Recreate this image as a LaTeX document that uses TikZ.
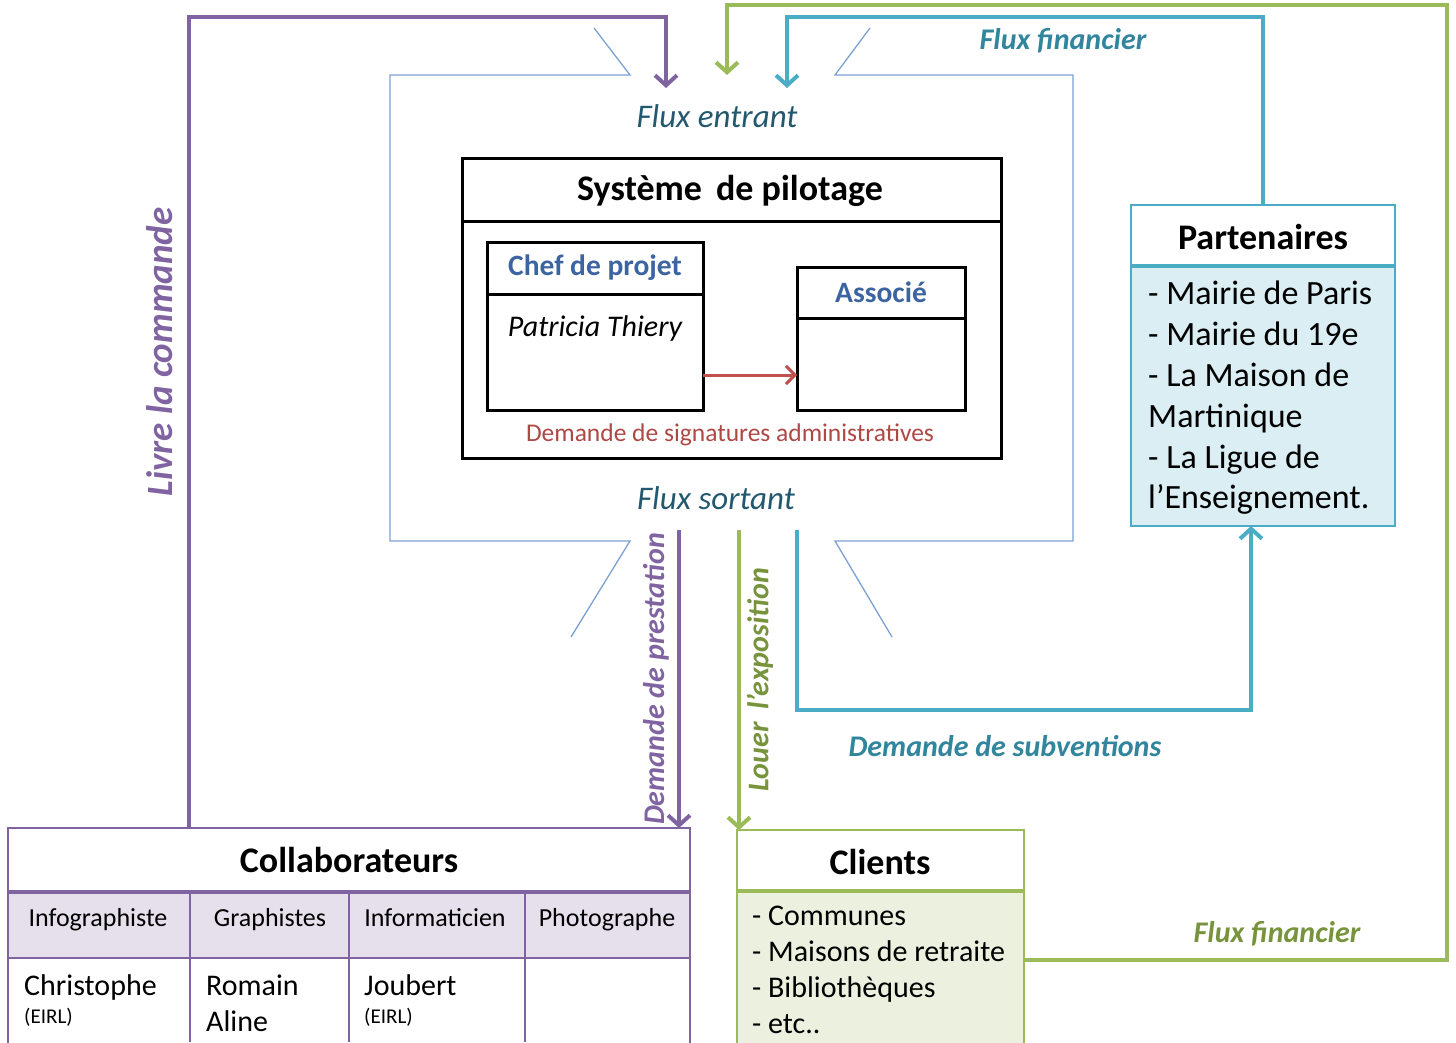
\documentclass[tikz,border=0pt]{standalone}
\usepackage{fontspec}
\setmainfont{Carlito}
\usetikzlibrary{arrows.meta,positioning}

\definecolor{cadre}{RGB}{125,160,210}
\definecolor{fluxtxt}{RGB}{35,88,110}
\definecolor{violet}{RGB}{128,100,162}
\definecolor{violetfond}{RGB}{229,224,236}
\definecolor{vert}{RGB}{155,187,89}
\definecolor{verttxt}{RGB}{119,147,60}
\definecolor{vertfond}{RGB}{235,241,222}
\definecolor{bleu}{RGB}{75,172,198}
\definecolor{bleutxt}{RGB}{49,133,156}
\definecolor{bleufond}{RGB}{218,238,243}
\definecolor{titrebleu}{RGB}{60,100,160}
\definecolor{rouge}{RGB}{192,80,77}

\tikzset{
	boite/.style={draw, inner sep=0pt, outer sep=0pt, anchor=north west},
	flux/.style={line width=4pt, -{Straight Barb[length=10pt,width=22pt]}},
	cadresys/.style={draw=cadre, line width=1.3pt},
	texteflux/.style={font=\fontsize{33}{40}\selectfont\itshape, text=fluxtxt},
	titre/.style={font=\fontsize{36}{42}\selectfont\bfseries},
	etiquette/.style={font=\fontsize{30}{36}\selectfont\bfseries\itshape},
	liste/.style={anchor=north west, inner sep=0pt, align=left},
	colonne/.style={anchor=base, inner sep=0pt, font=\fontsize{26}{31}\selectfont}
}

\begin{document}
\begin{tikzpicture}[x=1pt, y=-1pt]
	\useasboundingbox (0,0) rectangle (1456,1042);
	\clip (0,0) rectangle (1456,1042);
	
	% cadre du systeme
	\draw[cadresys] (594,28) -- (630,75) -- (390,75) -- (390,541) -- (630,541) -- (571,637);
	\draw[cadresys] (870,28) -- (835,75) -- (1073,75) -- (1073,541) -- (835,541) -- (892,637);
	
	\node[texteflux] (entrant) at (717,116) {Flux entrant};
	\node[texteflux] (sortant) at (716,498) {Flux sortant};
	
	% systeme de pilotage
	\node[boite, line width=3pt, minimum width=539pt, minimum height=300pt] (pilot) at (462,158) {};
	\draw[line width=3pt] ([yshift=-63pt]pilot.north west) -- ([yshift=-63pt]pilot.north east);
	\node[titre] (pilottitre) at (730,191) {Système\hspace{6pt} de pilotage};
	
	\node[boite, line width=3pt, minimum width=216pt, minimum height=168pt] (chef) at (487,242) {};
	\draw[line width=3pt] ([yshift=-52pt]chef.north west) -- ([yshift=-52pt]chef.north east);
	\node[font=\fontsize{29.5}{35}\selectfont\bfseries, text=titrebleu] (cheftitre) at (595,268) {Chef de projet};
	\node[font=\fontsize{30}{36}\selectfont\itshape] (patricia) at (595,328) {Patricia Thiery};
	
	\node[boite, line width=3pt, minimum width=168pt, minimum height=143pt] (assoc) at (797,267) {};
	\draw[line width=3pt] ([yshift=-51pt]assoc.north west) -- ([yshift=-51pt]assoc.north east);
	\node[font=\fontsize{29.5}{35}\selectfont\bfseries, text=titrebleu] (assoctitre) at (881,292) {Associé};
	
	\draw[line width=3pt, rouge, -{Straight Barb[length=9pt,width=18pt]}] ([yshift=-133pt]chef.north east) -- ([yshift=-133pt]chef.north east -| assoc.west);
	\node[font=\fontsize{25.5}{30}\selectfont, text=rouge!90!black] (signatures) at (730,435) {Demande de signatures administratives};
	
	% partenaires
	\node[boite, draw=bleu, line width=1.5pt, fill=white, minimum width=264pt, minimum height=61pt] (parttete) at (1131,205) {};
	\node[boite, draw=bleu, line width=1.5pt, fill=bleufond, minimum width=264pt, minimum height=260pt, below=0pt of parttete] (part) {};
	\draw[bleu, line width=3.5pt] (part.north west) -- (part.north east);
	\node[titre] (parttitre) at (1263,237) {Partenaires};
	\node[liste, font=\fontsize{34}{40.8}\selectfont] (partliste) at (1148,281) {- Mairie de Paris\\- Mairie du 19e\\- La Maison de\\Martinique\\- La Ligue de\\l’Enseignement.};
	
	% collaborateurs
	\node[boite, draw=violet, line width=1.5pt, minimum width=682pt, minimum height=240pt] (collab) at (8,828) {};
	\fill[violetfond] ([yshift=-64pt]collab.north west) rectangle ([yshift=-130pt]collab.north east);
	\draw[violet, line width=3.5pt] ([yshift=-64pt]collab.north west) -- ([yshift=-64pt]collab.north east);
	\draw[violet, line width=1.5pt] ([yshift=-130pt]collab.north west) -- ([yshift=-130pt]collab.north east);
	\foreach \cx in {190,349,525}
		\draw[violet, line width=1.5pt] (\cx,892) -- (\cx,1042);
	\draw[violet, line width=1.5pt] (collab.north west) rectangle (collab.south east);
	\node[titre] (collabtitre) at (349,860) {Collaborateurs};
	
	\node[colonne] (infographiste) at (98,926) {Infographiste};
	\node[colonne] (graphistes) at (270,926) {Graphistes};
	\node[colonne] (informaticien) at (435,926) {Informaticien};
	\node[colonne] (photographe) at (607,926) {Photographe};
	
	\node[anchor=base west, inner sep=0pt, font=\fontsize{30}{36}\selectfont] (christophe) at (24,995) {Christophe};
	\node[anchor=base west, inner sep=0pt, font=\fontsize{21}{25}\selectfont] (eirla) at (24,1023) {(EIRL)};
	\node[anchor=base west, inner sep=0pt, font=\fontsize{30}{36}\selectfont] (romain) at (206,995) {Romain};
	\node[anchor=base west, inner sep=0pt, font=\fontsize{30}{36}\selectfont] (aline) at (206,1031) {Aline};
	\node[anchor=base west, inner sep=0pt, font=\fontsize{30}{36}\selectfont] (joubert) at (364,995) {Joubert};
	\node[anchor=base west, inner sep=0pt, font=\fontsize{21}{25}\selectfont] (eirlb) at (364,1023) {(EIRL)};
	
	% clients
	\node[boite, draw=vert, line width=1.5pt, fill=white, minimum width=287pt, minimum height=61pt] (clienttete) at (737,830) {};
	\node[boite, draw=vert, line width=1.5pt, fill=vertfond, minimum width=287pt, minimum height=200pt, below=0pt of clienttete] (clients) {};
	\draw[vert, line width=3.5pt] (clients.north west) -- (clients.north east);
	\node[titre] (clientstitre) at (880,862) {Clients};
	\node[liste, font=\fontsize{30}{35.8}\selectfont] (clientsliste) at (752,906) {- Communes\\- Maisons de retraite\\- Bibliothèques\\- etc..};
	
	% flux
	\coordinate (in1) at (666,88);
	\coordinate (in2) at (727,75);
	\coordinate (in3) at (787,88);
	\coordinate (out1) at (679,530);
	\coordinate (out2) at (739,530);
	\coordinate (out3) at (797,530);
	
	\draw[flux, violet] ([xshift=-160pt]collab.north) -- ++(0,-811) -| (in1);
	\node[etiquette, text=violet, rotate=90, font=\fontsize{37}{44}\selectfont\bfseries\itshape] (livre) at (160,352) {Livre la commande};
	
	\draw[flux, violet] (out1) -- (out1 |- collab.north);
	\node[etiquette, text=violet, rotate=90] (prestation) at (656,679) {Demande de prestation};
	
	\draw[flux, vert] (out2) -- (out2 |- clienttete.north);
	\node[etiquette, text=verttxt, rotate=90] (louer) at (760,680) {Louer\hspace{6pt} l’exposition};
	
	\draw[flux, vert] ([yshift=-69pt]clients.north east) -- ++(423,0) -- ++(0,-955) -| (in2);
	\node[etiquette, text=verttxt] (financiervert) at (1277,934) {Flux financier};
	
	\draw[flux, bleu] (parttete.north) -- ++(0,-188) -| (in3);
	\node[etiquette, text=bleutxt] (financierbleu) at (1063,41) {Flux financier};
	
	\draw[flux, bleu] (out3) -- ++(0,180) -| ([xshift=-12pt]part.south);
	\node[etiquette, text=bleutxt] (subventions) at (1005,746) {Demande de subventions};
\end{tikzpicture}
\end{document}
